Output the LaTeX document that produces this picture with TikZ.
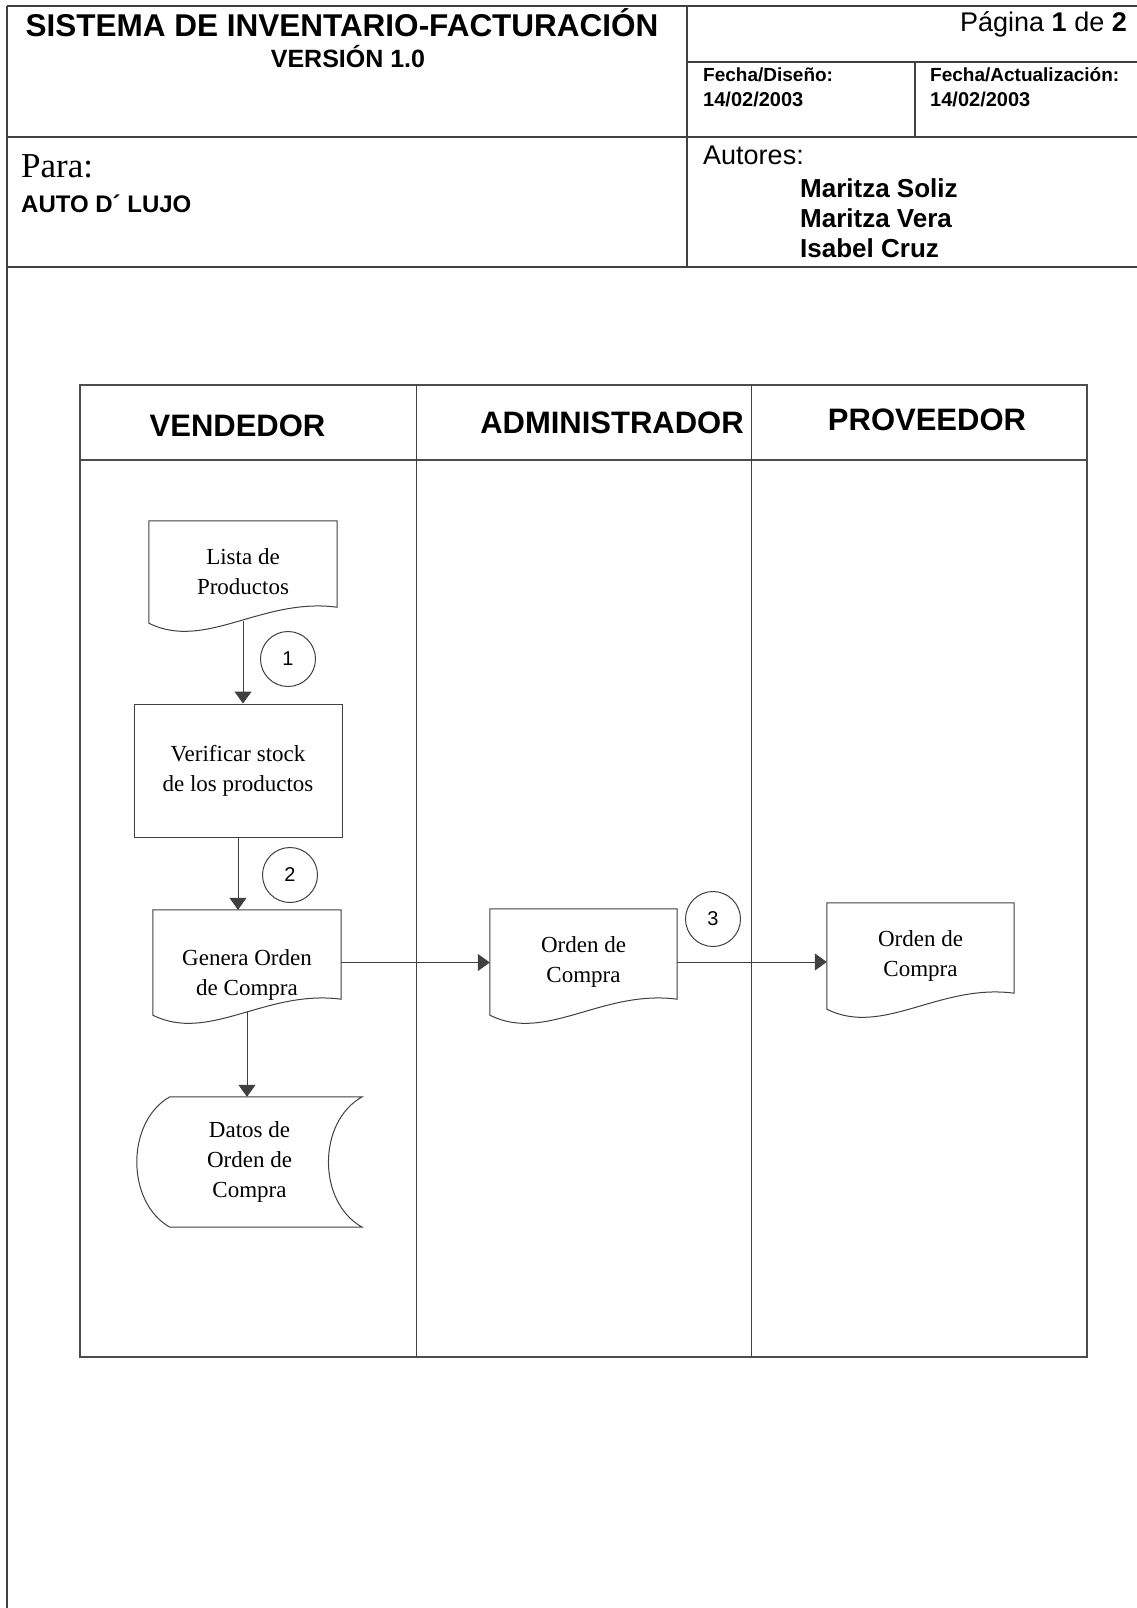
\documentclass[tikz,border=0pt]{standalone}
\usepackage{fontspec}
\setmainfont{Liberation Serif}
\newfontfamily\arialf{Liberation Sans}
\usetikzlibrary{arrows.meta,calc}
\newcommand\fsz[2]{\fontsize{#1}{#2}\selectfont}
\newcommand\docoutline[1]{%
  \draw[ln] (#1.north west) -- (#1.north east) -- ($(#1.south east)+(0,-16)$)
    .. controls ($(#1.south west)!0.6!(#1.south east)+(0,-26)$) and ($(#1.south west)!0.3!(#1.south east)+(0,28)$) .. (#1.south west) -- cycle;}
\begin{document}
\begin{tikzpicture}[x=1pt,y=-1pt,
  hline/.style={line width=1.6pt, draw=black!75},
  fline/.style={line width=1.2pt, draw=black!70},
  ln/.style={line width=1pt, draw=black!75},
  arr/.style={ln, -{Triangle[length=12pt,width=17pt]}},
  lane/.style={font=\arialf\bfseries\fsz{31}{36}, anchor=base, inner sep=0},
  txt/.style={inner sep=0, anchor=base west},
  doc/.style={minimum width=188pt, minimum height=105pt, inner sep=0, align=center, font=\fsz{23}{30}},
  box/.style={ln, draw, minimum width=208pt, minimum height=133pt, inner sep=0, align=center, font=\fsz{23}{30}},
  circ/.style={ln, draw, circle, minimum size=55pt, inner sep=0, font=\arialf\fsz{20}{22}}
]
\useasboundingbox (0,0) rectangle (1137,1608);
\fill[white] (0,0) rectangle (1137,1608);

% ---------- page header ----------
\draw[hline] (7,6) -- (1137,6);
\draw[hline] (7,6) -- (7,1608);
\draw[hline] (687,6) -- (687,267);
\draw[hline] (687,62) -- (1137,62);
\draw[hline] (915,62) -- (915,137);
\draw[hline] (7,137) -- (1137,137);
\draw[hline] (7,267) -- (1137,267);

\node[inner sep=0, anchor=base, font=\arialf\bfseries\fsz{31.5}{36}] (title) at (342,37) {SISTEMA DE INVENTARIO-FACTURACIÓN};
\node[inner sep=0, anchor=base, font=\arialf\bfseries\fsz{25}{30}] (version) at (348,68) {VERSIÓN 1.0};
\node[inner sep=0, anchor=base east, font=\arialf\fsz{27}{30}] (pagina) at (1127,32) {Página \textbf{1} de \textbf{2}};
\node[txt, font=\arialf\bfseries\fsz{19}{22}] (fd) at (703,82) {Fecha/Diseño:};
\node[txt, font=\arialf\bfseries\fsz{20}{22}] (fdv) at (703,107) {14/02/2003};
\node[txt, font=\arialf\bfseries\fsz{19}{22}] (fa) at (930,82) {Fecha/Actualización:};
\node[txt, font=\arialf\bfseries\fsz{20}{22}] (fav) at (930,107) {14/02/2003};
\node[txt, font=\fsz{35}{40}] (para) at (21,178) {Para:};
\node[txt, font=\arialf\bfseries\fsz{24}{28}] (cliente) at (21,212) {AUTO D´ LUJO};
\node[txt, font=\arialf\fsz{27}{30}] (autores) at (703,165) {Autores:};
\node[txt, font=\arialf\bfseries\fsz{26}{30}] (a1) at (800,197) {Maritza Soliz};
\node[txt, font=\arialf\bfseries\fsz{26}{30}] (a2) at (800,227) {Maritza Vera};
\node[txt, font=\arialf\bfseries\fsz{26}{30}] (a3) at (800,257) {Isabel Cruz};

% ---------- swimlane frame ----------
\draw[fline] (80,385) rectangle (1087,1357);
\draw[fline] (80,460) -- (1087,460);
\draw[ln] (416,385) -- (416,1357);
\draw[ln] (751,385) -- (751,1357);
\node[lane] (lv) at (237.5,436) {VENDEDOR};
\node[lane] (la) at (612,433) {ADMINISTRADOR};
\node[lane] (lp) at (927,430) {PROVEEDOR};

% ---------- nodes ----------
\node[doc, minimum height=102pt] (lista) at (243,572) {Lista de\\Productos};
\docoutline{lista}
\node[box] (verif) at (238,770.5) {Verificar stock\\de los productos};
\node[doc, label={[inner sep=0, align=center, font=\fsz{23}{30}, yshift=-12pt]center:Genera Orden\\de Compra}] (genera) at (247,962.5) {};
\docoutline{genera}
\node[doc, minimum width=187pt, minimum height=106pt] (ordA) at (583.5,962) {Orden de\\Compra};
\docoutline{ordA}
\node[doc, minimum width=187pt, minimum height=106pt] (ordP) at (920.5,956) {Orden de\\Compra};
\docoutline{ordP}
\node[doc, minimum width=225pt, minimum height=130pt] (datos) at (249.5,1162) {Datos de\\Orden de\\Compra};
\draw[ln] ($(datos.north west)+(33,0)$) -- (datos.north east)
  .. controls ($(datos.north east)+(-45,25)$) and ($(datos.south east)+(-45,-25)$) .. (datos.south east)
  -- ($(datos.south west)+(33,0)$)
  .. controls ($(datos.south west)+(-11,-25)$) and ($(datos.north west)+(-11,25)$) .. ($(datos.north west)+(33,0)$) -- cycle;

\node[circ] (c1) at (288,659) {1};
\node[circ] (c2) at (290,875) {2};
\node[circ] (c3) at (713,919) {3};

% ---------- connectors ----------
\draw[arr] ($(lista.south)+(0,-2)$) -- (lista.south |- verif.north);
\draw[arr] (verif.south) -- (verif.south |- genera.north);
\draw[arr] ($(genera.south)+(0,-3)$) -- (genera.south |- datos.north);
\draw[arr] (genera.east) -- (genera.east -| ordA.west);
\draw[arr] (ordA.east) -- (ordA.east -| ordP.west);
\end{tikzpicture}
\end{document}
